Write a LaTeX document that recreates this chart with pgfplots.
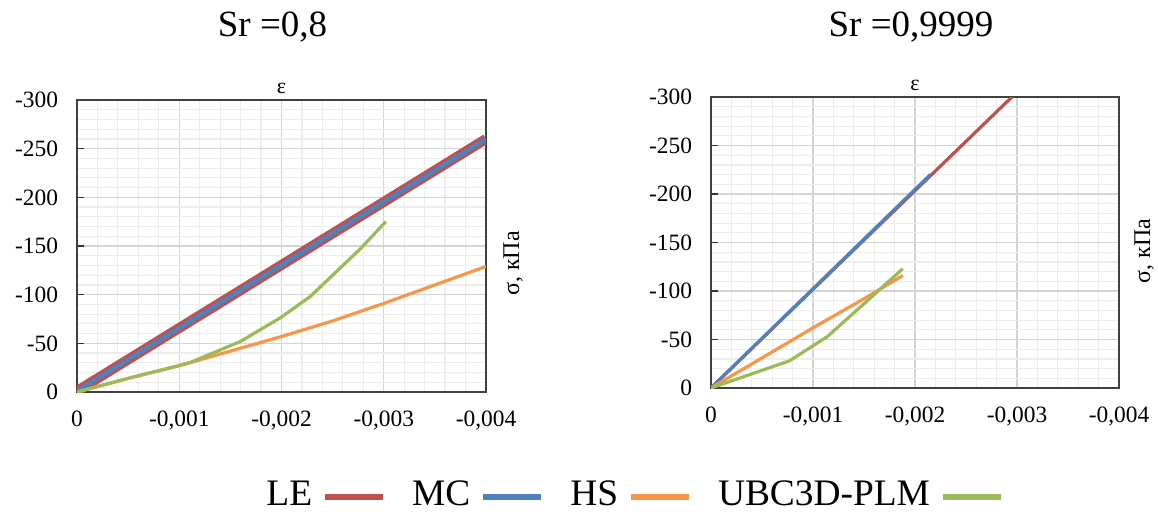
\documentclass[border=0pt]{standalone}
\usepackage{fontspec}
\setmainfont{Liberation Serif}
\usepackage{pgfplots}
\usetikzlibrary{calc}
\pgfplotsset{compat=1.18}
\definecolor{cLE}{HTML}{C0504D}
\definecolor{cMC}{HTML}{4F81BD}
\definecolor{cHS}{HTML}{F79646}
\definecolor{cUB}{HTML}{9BBB59}
\pgfplotsset{
  panel/.style={
    scale only axis, width=204.5bp, height=146bp,
    x dir=reverse, y dir=reverse,
    xmin=-0.004, xmax=0, ymin=-300, ymax=0,
    xtick={0,-0.001,-0.002,-0.003,-0.004},
    xticklabels={0,{-0,001},{-0,002},{-0,003},{-0,004}},
    ytick={0,-50,-100,-150,-200,-250,-300},
    yticklabels={0,-50,-100,-150,-200,-250,-300},
    scaled x ticks=false, scaled y ticks=false,
    minor x tick num=4, minor y tick num=4,
    grid=both,
    major grid style={draw=black!17, line width=0.6bp},
    minor grid style={draw=black!7, line width=0.6bp},
    axis line style={draw=black!75, line width=0.8bp},
    tick align=inside, major tick length=3.3bp, minor tick length=0pt,
    ytick pos=left, xtick pos=bottom,
    xtick style={draw=none},
    ytick style={draw=black!80, line width=0.8bp},
    tick label style={font=\fontsize{11.7bp}{13bp}\selectfont},
    yticklabel style={xshift=-6bp},
    xticklabel style={yshift=-6bp},
    clip mode=individual,
  }
}
\begin{document}
\begin{tikzpicture}
\path[use as bounding box] (0,0) rectangle (579bp,257bp);
\node[font=\fontsize{18.5bp}{22bp}\selectfont, anchor=base, inner sep=0pt] at (136.25bp,238.5bp) {Sr =0,8};
\node[font=\fontsize{18.5bp}{22bp}\selectfont, anchor=base, inner sep=0pt] at (455.5bp,238.5bp) {Sr =0,9999};

\begin{axis}[panel, at={(38.5bp,61bp)}, anchor=south west,
  legend columns=4,
  legend plot pos=right,
  legend style={draw=none, fill=none, at={(1.36,-0.353)}, anchor=center,
    font=\fontsize{18.7bp}{22bp}\selectfont,
    /tikz/every odd column/.append style={column sep=3bp},
    /tikz/every even column/.append style={column sep=11bp}},
  legend image code/.code={\draw[#1, line width=3bp] (0bp,-0.8bp) -- (29bp,-0.8bp);},
  ]
\addplot[cLE, line width=5bp] coordinates {(0,-1) (-0.004,-260)};
\addplot[cMC, line width=2.2bp] coordinates {(0,-1) (-0.004,-260)};
\addplot[cHS, line width=1.6bp] coordinates {(0,0) (-0.0005,-14) (-0.001,-27) (-0.0015,-42) (-0.002,-57) (-0.0025,-73) (-0.003,-91) (-0.0035,-110) (-0.004,-129)};
\addplot[cUB, line width=1.6bp] coordinates {(0,0) (-0.0005,-14) (-0.0011,-30) (-0.0016,-52) (-0.002,-77) (-0.00228,-98) (-0.00256,-126) (-0.00277,-147) (-0.00302,-175)};
\legend{LE,MC,HS,UBC3D-PLM}
\node[font=\fontsize{11bp}{13bp}\selectfont, anchor=base] at (rel axis cs:0.5,1) [yshift=3.5bp] {ε};
\node[font=\fontsize{12bp}{14bp}\selectfont, rotate=90, anchor=center] at ($(rel axis cs:1,0.44)+(13.5bp,0bp)$) {σ, кПа};
\end{axis}

\begin{axis}[panel, at={(355.5bp,63bp)}, anchor=south west, width=204bp, height=145.5bp]
\addplot[cLE, line width=1.6bp] coordinates {(0,0) (-0.00295,-300)};
\addplot[cMC, line width=1.6bp] coordinates {(0,0) (-0.00215,-220)};
\addplot[cHS, line width=1.6bp] coordinates {(0,0) (-0.0005,-31) (-0.001,-62) (-0.0015,-92) (-0.00188,-116)};
\addplot[cUB, line width=1.6bp] coordinates {(0,0) (-0.00077,-28) (-0.00114,-53) (-0.00147,-84) (-0.00188,-123)};
\node[font=\fontsize{11bp}{13bp}\selectfont, anchor=base] at (rel axis cs:0.5,1) [yshift=3.5bp] {ε};
\node[font=\fontsize{12bp}{14bp}\selectfont, rotate=90, anchor=center] at ($(rel axis cs:1,0.47)+(12.5bp,0bp)$) {σ, кПа};
\end{axis}
\end{tikzpicture}
\end{document}
